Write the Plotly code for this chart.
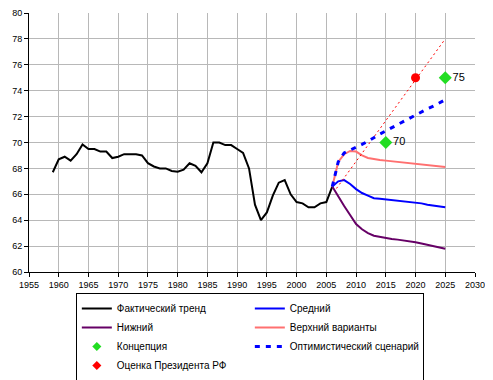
import plotly.graph_objects as go

fact_years = list(range(1959, 2007))
fact_vals = [67.7, 68.7, 68.9, 68.6, 69.1, 69.85, 69.5, 69.5, 69.3, 69.3,
             68.8, 68.9, 69.1, 69.1, 69.1, 69.0, 68.4, 68.15, 68.0, 68.0,
             67.8, 67.75, 67.9, 68.4, 68.2, 67.7, 68.4, 70.0, 70.0, 69.8,
             69.8, 69.5, 69.2, 68.0, 65.2, 64.0, 64.6, 65.9, 66.9, 67.1,
             66.0, 65.4, 65.3, 65.0, 65.0, 65.3, 65.4, 66.6]

proj_years = list(range(2006, 2026))
mid_vals = [66.6, 67.0, 67.1, 66.8, 66.4, 66.1, 65.9, 65.7, 65.65, 65.6,
            65.55, 65.5, 65.5, 65.4, 65.35, 65.3, 65.2, 65.15, 65.05, 65.0]
low_vals = [66.6, 65.8, 65.1, 64.4, 63.7, 63.3, 63.0, 62.8, 62.7, 62.6,
            62.55, 62.5, 62.45, 62.35, 62.3, 62.2, 62.1, 62.0, 61.85, 61.8]
high_vals = [66.6, 68.5, 69.1, 69.35, 69.3, 69.0, 68.8, 68.7, 68.65, 68.6,
             68.55, 68.5, 68.5, 68.45, 68.4, 68.35, 68.3, 68.2, 68.15, 68.1]
opt_vals = [66.6, 68.5, 69.2, 69.4, 69.6, 69.85, 70.1, 70.4, 70.65, 70.9,
            71.15, 71.4, 71.65, 71.9, 72.1, 72.35, 72.6, 72.8, 73.05, 73.3]

concept_years = [2015, 2025]
concept_vals = [70, 75]
concept_labels = ["70", "75"]

president_years = [2020]
president_vals = [75]

trend_years = [2006.7, 2025]
trend_vals = [66.45, 78.0]

FONT = "Liberation Sans, Arial, sans-serif"
GREEN = "#22dd22"
RED = "#ff0000"

fig = go.Figure()
fig.add_trace(go.Scatter(x=fact_years, y=fact_vals, mode="lines", name="Фактический тренд",
                         line=dict(color="black", width=2)))
fig.add_trace(go.Scatter(x=proj_years, y=mid_vals, mode="lines", name="Средний",
                         line=dict(color="#0000ff", width=2)))
fig.add_trace(go.Scatter(x=proj_years, y=low_vals, mode="lines", name="Нижний",
                         line=dict(color="#660066", width=2)))
fig.add_trace(go.Scatter(x=proj_years, y=high_vals, mode="lines", name="Верхний варианты",
                         line=dict(color="#ff7070", width=2)))
fig.add_trace(go.Scatter(x=trend_years, y=trend_vals, mode="lines", showlegend=False,
                         line=dict(color=RED, width=1, dash="2px,3px")))
fig.add_trace(go.Scatter(x=concept_years, y=concept_vals, mode="markers+text", showlegend=False,
                         text=concept_labels, textposition="middle right",
                         textfont=dict(family=FONT, size=11, color="black"),
                         marker=dict(symbol="diamond", size=10, color=GREEN)))
fig.add_trace(go.Scatter(x=[None], y=[None], mode="markers", name="Концепция",
                         marker=dict(symbol="diamond", size=7, color=GREEN)))
fig.add_trace(go.Scatter(x=proj_years, y=opt_vals, mode="lines", name="Оптимистический сценарий",
                         line=dict(color="#0000ff", width=3, dash="5px,6px")))
fig.add_trace(go.Scatter(x=president_years, y=president_vals, mode="markers", showlegend=False,
                         marker=dict(symbol="circle", size=9, color=RED)))
fig.add_trace(go.Scatter(x=[None], y=[None], mode="markers", name="Оценка Президента РФ",
                         marker=dict(symbol="diamond", size=7, color=RED)))

fig.update_layout(
    width=485, height=372,
    margin=dict(l=21, r=18, t=5, b=108, autoexpand=False),
    paper_bgcolor="white", plot_bgcolor="white",
    font=dict(family=FONT, size=10, color="black"),
    showlegend=True,
    legend=dict(orientation="h", x=0.105, y=-0.081, xanchor="left", yanchor="top",
                entrywidth=128, entrywidthmode="pixels",
                bordercolor="black", borderwidth=1, bgcolor="white",
                font=dict(family=FONT, size=10), traceorder="normal"),
)
fig.update_xaxes(range=[1955, 2030], dtick=5, tick0=1955, showgrid=True, gridcolor="#b8b8b8",
                 gridwidth=1, showline=True, linecolor="black", linewidth=1,
                 ticks="outside", ticklen=4, tickcolor="black", zeroline=False,
                 tickfont=dict(family=FONT, size=9))
fig.update_yaxes(range=[60, 80], dtick=2, tick0=60, showgrid=True, gridcolor="#b8b8b8",
                 gridwidth=1, showline=True, linecolor="black", linewidth=1,
                 ticks="outside", ticklen=4, tickcolor="black", zeroline=False,
                 tickfont=dict(family=FONT, size=9))

fig.write_html("out.html")
